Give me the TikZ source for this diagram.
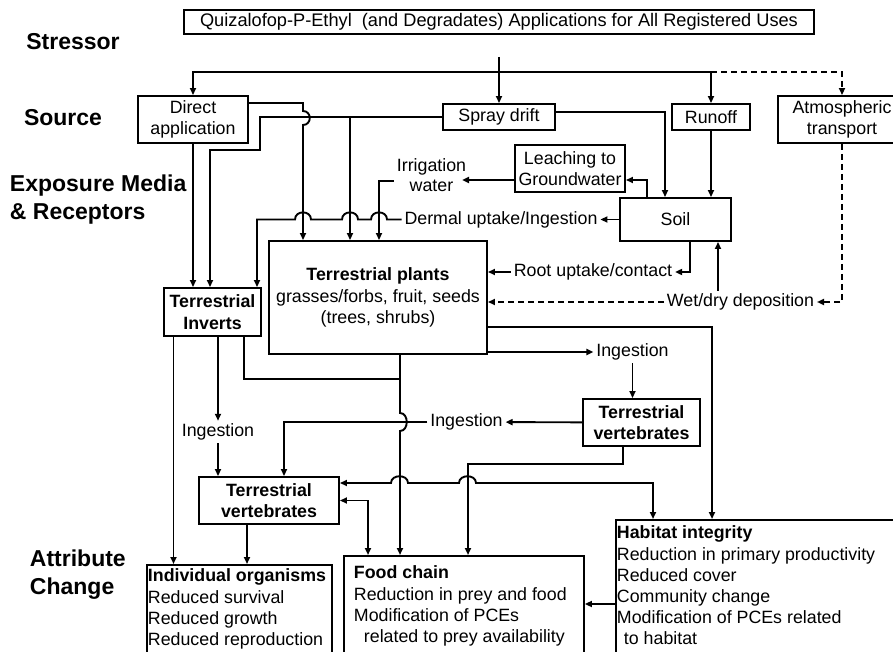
\documentclass[tikz,border=0pt]{standalone}
\usepackage{fontspec}
\setmainfont{Liberation Sans}
\usetikzlibrary{arrows.meta}

\begin{document}
\begin{tikzpicture}[x=1pt, y=-1pt, line width=1.9pt,
        box/.style = {draw, rectangle, inner sep=0pt, align=center,
        font=\fontsize{17.8}{21.5}\selectfont},
        bold/.style = {font=\fontsize{17.8}{21.5}\selectfont\bfseries},
        txt/.style = {inner sep=2pt, align=center,
        font=\fontsize{17.8}{20}\selectfont},
        side/.style = {inner sep=0pt, align=left,
        font=\fontsize{23}{28}\selectfont\bfseries},
        list/.style = {draw, rectangle, anchor=north west, inner xsep=1pt,
        font=\fontsize{17.8}{21.2}\selectfont},
        arr/.style = {-{Triangle[length=7pt,width=6pt]}},
        both/.style = {{Triangle[length=7pt,width=6pt]}-{Triangle[length=7pt,width=6pt]}},
        dashline/.style = {dash pattern=on 6pt off 4pt}]
    \useasboundingbox (0,0) rectangle (893,652);

    \node[side] (stressor) at (73,42) {Stressor};
    \node[side] (source) at (63,118) {Source};
    \node[side, anchor=west] (media) at (9,200) {Exposure Media\\\& Receptors};
    \node[side, anchor=west] (attr) at (29,575) {Attribute\\Change};

    \node[box, minimum width=630pt, minimum height=24pt,
        font=\fontsize{18.2}{20}\selectfont] (src) at (499,22)
        {Quizalofop-P-Ethyl~ (and Degradates) Applications for All Registered Uses};
    \node[box, minimum width=110pt, minimum height=47pt] (dapp) at (193,119.5) {Direct\\application};
    \node[box, minimum width=112pt, minimum height=26pt] (spray) at (499,117) {Spray drift};
    \node[box, minimum width=78pt, minimum height=26pt] (runoff) at (711,117) {Runoff};
    \node[box, minimum width=128pt, minimum height=47pt] (atmos) at (842,119.5) {Atmospheric\\transport};
    \node[box, minimum width=110pt, minimum height=47pt] (leach) at (570,168.5) {Leaching to\\Groundwater};
    \node[box, minimum width=111pt, minimum height=43pt] (soil) at (675.5,219.5) {Soil};
    \node[txt] (irrig) at (431.5,175) {Irrigation\\water};
    \node[txt] (dermal) at (501,219.5) {Dermal uptake/Ingestion};
    \node[box, minimum width=218pt, minimum height=113pt] (plants) at (378,297.5)
        {\textbf{Terrestrial plants}\\grasses/forbs, fruit, seeds\\(trees, shrubs)};
    \node[box, bold, minimum width=97pt, minimum height=48pt] (inverts) at (212.5,312) {Terrestrial\\Inverts};
    \node[txt] (root) at (593,272) {Root uptake/contact};
    \node[txt] (wetdry) at (740.5,302) {Wet/dry deposition};
    \node[txt] (ing1) at (632.5,352) {Ingestion};
    \node[box, bold, minimum width=117pt, minimum height=47pt] (vertR) at (641.5,422.5) {Terrestrial\\vertebrates};
    \node[txt] (ing2) at (466.5,422) {Ingestion};
    \node[txt] (ing3) at (218,432) {Ingestion};
    \node[box, bold, minimum width=140pt, minimum height=47pt] (vertL) at (269,500.5) {Terrestrial\\vertebrates};
    \node[list, inner ysep=4pt] (indiv) at (146,564)
        {\parbox[t][120pt][t]{183pt}{\textbf{Individual organisms}\\Reduced survival\\Reduced growth\\Reduced reproduction}};
    \node[list, inner xsep=10pt, inner ysep=10pt] (food) at (343,555)
        {\parbox[t][120pt][t]{220pt}{\textbf{Food chain}\\Reduction in prey and food\\Modification of PCEs\\\hspace*{10pt}related to prey availability}};
    \node[list, inner ysep=6pt] (habitat) at (615,519)
        {\parbox[t][160pt][t]{300pt}{\textbf{Habitat integrity}\\Reduction in primary productivity\\Reduced cover\\Community change\\Modification of PCEs related\\\hspace*{7pt}to habitat}};

    \coordinate (split) at (499,57);
    \coordinate (hub) at (499,72);
    \draw[arr] (split) -- (spray);
    \draw[arr] (hub) -| (dapp);
    \draw[arr] (hub) -| (runoff);
    \draw[arr, dashline] (runoff |- hub) -| (atmos);

    \draw[arr] (dapp) -- (dapp |- inverts.north);
    \draw[arr] ([yshift=16.5pt]dapp.east) -| (303,111) .. controls (312,111) and (312,125) .. (303,125)
        -- (plants.north -| 303,0);
    \draw[arr] (spray.west) -| (260,150) -| ([xshift=-2.5pt]inverts.north);
    \draw[arr] (spray.west -| 350,0) -- (plants.north -| 350,0);
    \draw[arr] ([yshift=5pt]spray.east) -| ([xshift=-10.5pt]soil.north);
    \draw[arr] (runoff) -- (runoff |- soil.north);

    \draw[arr] ([xshift=-28.5pt]soil.north) |- ([yshift=-11.5pt]leach.east);
    \draw[arr] ([yshift=-11.5pt]leach.west) -- ++(-52,0);
    \draw[arr] ([yshift=-6pt]irrig.west) -| ([xshift=1pt]plants.north);
    \draw[arr] (soil) -- (dermal);
    \draw[arr] (dermal) -- (387,219.5) .. controls (387,210) and (371,210) .. (371,219.5)
        -- (358,219.5) .. controls (358,210) and (342,210) .. (342,219.5)
        -- (311,219.5) .. controls (311,210) and (295,210) .. (295,219.5)
        -| ([xshift=44.5pt]inverts.north);

    \draw[arr] ([xshift=14.5pt]soil.south) |- (root);
    \draw[arr] (root) -- (plants.east |- root);
    \draw[arr, dashline] (atmos) |- (wetdry);
    \draw[arr, dashline] (wetdry) -- (plants.east |- wetdry);
    \draw[arr] ([xshift=-22.5pt]wetdry.north) -- ([xshift=42.5pt]soil.south);

    \draw[arr] ([yshift=-29.5pt]plants.east) -| ([xshift=97pt]habitat.north west);
    \draw[arr] (plants.east |- ing1) -- (ing1);
    \draw[arr] (ing1) -- (ing1 |- vertR.north);
    \draw[arr] (vertR) -- (ing2);
    \draw[arr] (ing2) -| ([xshift=15pt]vertL.north);
    \draw[arr] ([xshift=22pt]plants.south) -- (400,413) .. controls (409,413) and (409,431) .. (400,431)
        -- ([xshift=57pt]food.north west);
    \draw ([xshift=31.5pt]inverts.south) |- (400,379);
    \draw[arr] ([xshift=-18.5pt]vertR.south) |- (468,464) -- ([xshift=125pt]food.north west);
    \draw[both] ([yshift=17.5pt]vertL.east) -- (391,483) .. controls (391,474) and (408,474) .. (408,483)
        -- (459,483) .. controls (459,474) and (476,474) .. (476,483)
        -| ([xshift=38pt]habitat.north west);
    \draw[both] (vertL.east) -| ([xshift=25pt]food.north west);

    \coordinate (iv1) at ([xshift=-39pt]inverts.south);
    \coordinate (iv2) at ([xshift=5.5pt]inverts.south);
    \coordinate (vl1) at ([xshift=-22pt]vertL.south);
    \coordinate (hw) at ([yshift=-85pt]habitat.north west);
    \draw[arr] (iv1) -- (iv1 |- indiv.north);
    \draw[arr] (iv2) -- (iv2 |- ing3.north);
    \draw[arr] (ing3) -- (ing3 |- vertL.north);
    \draw[arr] (vl1) -- (vl1 |- indiv.north);
    \draw[arr] (hw) -- (hw -| food.east);
\end{tikzpicture}
\end{document}
